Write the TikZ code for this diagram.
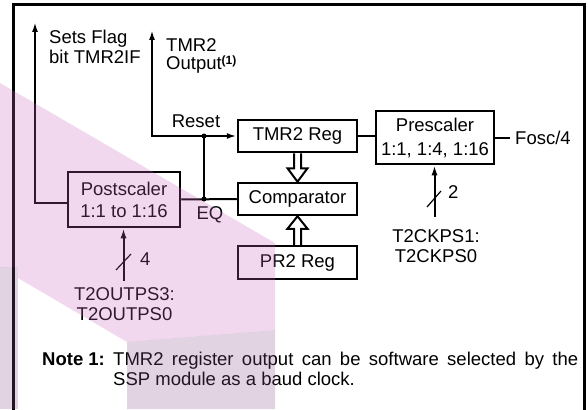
\documentclass[tikz,border=0pt]{standalone}
\usepackage{fontspec}
\setmainfont{Liberation Sans}
\usetikzlibrary{arrows.meta,calc}
\definecolor{wmpink}{RGB}{203,103,195}
\definecolor{wmgrey}{RGB}{139,80,139}
\tikzset{
  box/.style={draw, line width=2.5pt, rectangle, inner sep=0pt, align=center, font=\fontsize{18.5}{22}\selectfont},
  conn/.style={line width=2pt},
  tip/.style={-{Latex[length=10pt,width=6pt]}},
  lbl/.style={inner sep=0pt, font=\fontsize{18.5}{20}\selectfont},
  dot/.style={circle, fill, inner sep=0pt, minimum size=5pt},
  hollow/.style={line width=2pt, fill=white, line join=miter},
}
\begin{document}
\begin{tikzpicture}[x=1pt,y=-1pt]
\useasboundingbox (0,0) rectangle (588,409);
\fill[white] (0,0) rectangle (588,409);
% frame
\draw[line width=3pt] (13,415) -- (13,5) -- (584,5) -- (584,415);

% boxes
\node[box, minimum width=119pt, minimum height=32pt] (tmr) at (297.5,136) {TMR2 Reg};
\node[box, minimum width=119pt, minimum height=32pt] (cmp) at (297.5,199) {Comparator};
\node[box, minimum width=119pt, minimum height=33pt] (pr2) at (297.5,262.5) {PR2 Reg};
\node[box, minimum width=118pt, minimum height=53pt, font=\fontsize{18.5}{24}\selectfont] (pre) at (435,137.5) {Prescaler\\1:1, 1:4, 1:16};
\node[box, minimum width=112pt, minimum height=55pt] (post) at (124,199.5) {Postscaler\\1:1 to 1:16};

% coordinates
\coordinate (flagtip) at (35,22);
\coordinate (outtip) at (152,30);
\coordinate (rst) at (204,136);
\coordinate (eq) at (204,199);
\coordinate (foscend) at (510,137.5);
\coordinate (ckin) at (434.5,217);
\coordinate (psin) at (123.5,281);

% connectors
\draw[conn,tip] ([yshift=-3pt]post.west) -| (flagtip);
\draw[conn,{Latex[length=10pt,width=6pt]}-{Latex[length=10pt,width=6pt]}] (outtip) |- (tmr.west);
\draw[conn] (rst) -- (eq);
\draw[conn] (post.east) -- (cmp.west);
\node[dot] (rstdot) at (rst) {};
\node[dot] (eqdot) at (eq) {};
\draw[conn] (tmr.east) -- (tmr.east -| pre.west);
\draw[conn] (pre.east) -- (foscend);
\draw[conn,tip] (ckin) -- (ckin |- pre.south);
\draw[conn,tip] (psin) -- (psin |- post.south);
\draw[line width=1.2pt] (427,207) -- (441,191);
\draw[line width=1.2pt] (116,270) -- (131,254);

% hollow arrows
\draw[hollow] ($(tmr.south)+(-3.5,0)$) -- ++(0,15) -- ++(-6.5,0) -- (cmp.north) -- ($(tmr.south)+(10,15)$) -- ++(-6.5,0) -- ($(tmr.south)+(3.5,0)$);
\draw[hollow] ($(pr2.north)+(-3.5,0)$) -- ++(0,-16) -- ++(-6.5,0) -- (cmp.south) -- ($(pr2.north)+(10,-16)$) -- ++(-6.5,0) -- ($(pr2.north)+(3.5,0)$);

% labels
\node[lbl, anchor=base west] (sf1) at (49,44) {Sets Flag};
\node[lbl, anchor=base west] (sf2) at (49,64) {bit TMR2IF};
\node[lbl, anchor=base west] (to1) at (166,52) {TMR2};
\node[lbl, anchor=base west] (to2) at (166,70) {Output\raisebox{5.5pt}{\fontsize{12}{12}\selectfont\bfseries (1)}};
\node[lbl, anchor=base] (reset) at (196,128) {Reset};
\node[lbl, anchor=base] (eqlbl) at (210,219) {EQ};
\node[lbl, anchor=base west] (fosc) at (515,144) {Fosc/4};
\node[lbl, anchor=base west] (two) at (448,198) {2};
\node[lbl, anchor=base west] (four) at (140,265) {4};
\node[lbl, anchor=base] (ck1) at (436,242) {T2CKPS1:};
\node[lbl, anchor=base] (ck0) at (436,262) {T2CKPS0};
\node[lbl, anchor=base] (op3) at (124.5,300) {T2OUTPS3:};
\node[lbl, anchor=base] (op0) at (124.5,320) {T2OUTPS0};
\node[lbl, anchor=base west] (note) at (42,365) {\bfseries Note 1:};
\node[lbl, anchor=base west] (n1) at (113,365) {\makebox[465pt][s]{TMR2 register output can be software selected by the}};
\node[lbl, anchor=base west] (n2) at (113,385) {SSP module as a baud clock.};

% watermark
\fill[wmpink, opacity=0.25] (0,83) -- (275,243) -- (275,330) -- (127,342) -- (18,278) -- (18,267) -- (0,267) -- cycle;
\fill[wmgrey, opacity=0.25] (0,267) rectangle (18,409);
\fill[wmgrey, opacity=0.25] (127,342) -- (275,330) -- (275,409) -- (127,409) -- cycle;
\end{tikzpicture}
\end{document}
